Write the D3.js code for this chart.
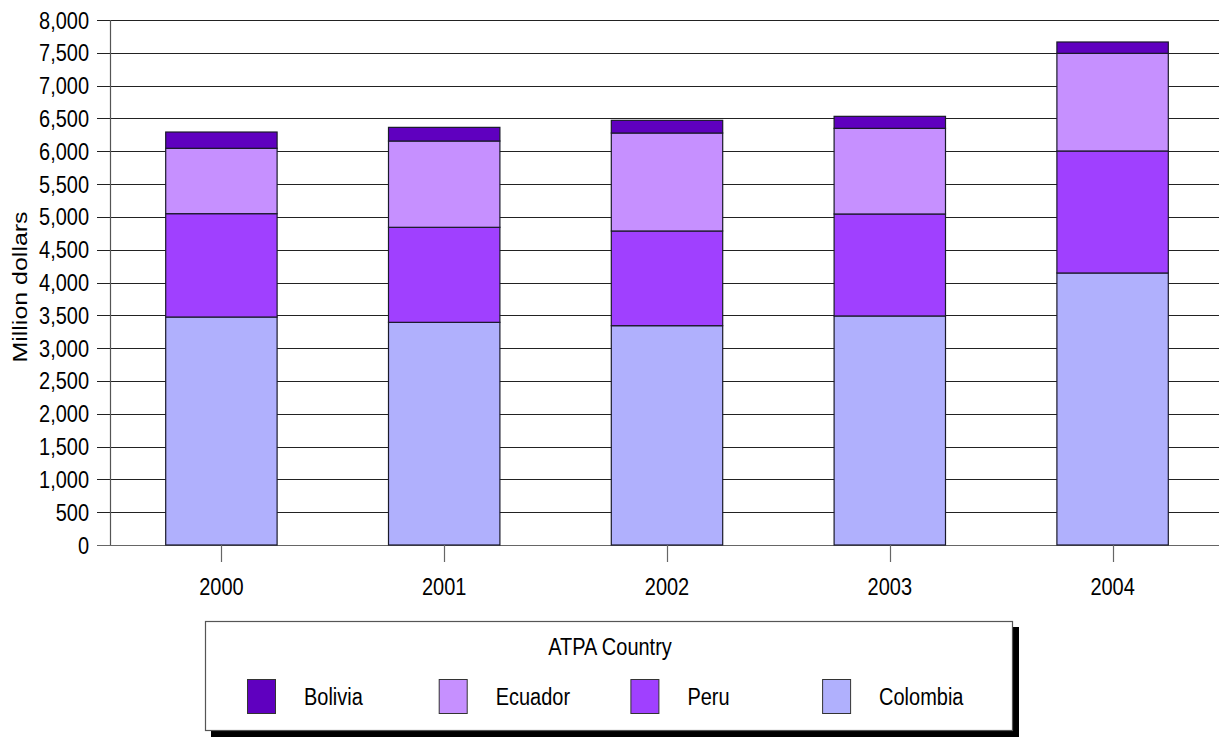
<!DOCTYPE html>
<html>
<head>
<meta charset="utf-8">
<script src="https://cdn.jsdelivr.net/npm/d3@7"></script>
<style>
  body { margin: 0; background: #fff; }
  svg { display: block; }
  text { font-family: "Liberation Sans", Arial, sans-serif; fill: #000; }
</style>
</head>
<body>
<svg id="chart" width="1219" height="738"></svg>
<script>
// values in million dollars
var years = ["2000", "2001", "2002", "2003", "2004"];
var colombia = [3474, 3393, 3342, 3490, 4145];
var peru = [1575, 1448, 1443, 1554, 1859];
var ecuador = [996, 1315, 1493, 1305, 1488];
var bolivia = [248, 208, 193, 183, 173];
var yTicks = [0, 500, 1000, 1500, 2000, 2500, 3000, 3500, 4000, 4500, 5000, 5500, 6000, 6500, 7000, 7500, 8000];

var countries = ["Colombia", "Peru", "Ecuador", "Bolivia"];
var legendOrder = ["Bolivia", "Ecuador", "Peru", "Colombia"];
var colors = {Bolivia: "#5f00bf", Ecuador: "#c690ff", Peru: "#a040ff", Colombia: "#b0b0fd"};

var rows = years.map(function (y, i) {
    return {year: y, Colombia: colombia[i], Peru: peru[i], Ecuador: ecuador[i], Bolivia: bolivia[i]};
});

var svg = d3.select("#chart");
var sx = 0.85;   // text in the original is squeezed horizontally

var yScale = d3.scaleLinear().domain([0, 8000]).range([545, 20]);
var xScale = d3.scaleBand().domain(years).range([110, 1224])
    .paddingInner(0.5).paddingOuter(0.25);

// gridlines + left ticks
svg.append("g").selectAll("line.grid")
    .data(yTicks)
    .enter().append("line")
    .attr("class", "grid")
    .attr("x1", 97).attr("x2", 1219)
    .attr("y1", function (d) { return Math.round(yScale(d)) + 0.5; })
    .attr("y2", function (d) { return Math.round(yScale(d)) + 0.5; })
    .attr("stroke", function (d) { return d === 0 ? "#666" : "#222"; })
    .attr("stroke-width", 1.2);

svg.append("g").selectAll("text")
    .data(yTicks)
    .enter().append("text")
    .attr("transform", function (d) { return "translate(89," + (yScale(d) + 8.5) + ") scale(" + sx + ",1)"; })
    .attr("text-anchor", "end")
    .style("font-size", "23.5px")
    .text(d3.format(","));

svg.append("line")
    .attr("x1", 110.5).attr("x2", 110.5)
    .attr("y1", 20).attr("y2", 545)
    .attr("stroke", "#555").attr("stroke-width", 1.2);

// stacked bars
var stack = d3.stack().keys(countries);
var series = stack(rows);

svg.append("g").selectAll("g")
    .data(series)
    .enter().append("g")
    .attr("fill", function (d) { return colors[d.key]; })
    .selectAll("rect")
    .data(function (d) { return d; })
    .enter().append("rect")
    .attr("x", function (d) { return xScale(d.data.year); })
    .attr("width", xScale.bandwidth())
    .attr("y", function (d) { return yScale(d[1]); })
    .attr("height", function (d) { return yScale(d[0]) - yScale(d[1]); })
    .attr("stroke", "#1a1a2a")
    .attr("stroke-width", 1.2);

// x ticks and labels
var xg = svg.append("g");
xg.selectAll("line")
    .data(years)
    .enter().append("line")
    .attr("x1", function (d) { return Math.round(xScale(d) + xScale.bandwidth() / 2) + 0.5; })
    .attr("x2", function (d) { return Math.round(xScale(d) + xScale.bandwidth() / 2) + 0.5; })
    .attr("y1", 545).attr("y2", 562)
    .attr("stroke", "#666").attr("stroke-width", 1.2);

xg.selectAll("text")
    .data(years)
    .enter().append("text")
    .attr("transform", function (d) { return "translate(" + (xScale(d) + xScale.bandwidth() / 2) + ",595) scale(" + sx + ",1)"; })
    .attr("text-anchor", "middle")
    .style("font-size", "23.5px")
    .text(function (d) { return d; });

// y axis title
svg.append("text")
    .attr("transform", "translate(27,287) rotate(-90) scale(1.04,0.82)")
    .attr("text-anchor", "middle")
    .style("font-size", "24px")
    .text("Million dollars");

// legend
var legend = svg.append("g");
legend.append("rect")
    .attr("x", 211).attr("y", 627)
    .attr("width", 808).attr("height", 110)
    .attr("fill", "#000");
legend.append("rect")
    .attr("x", 205.5).attr("y", 621.5)
    .attr("width", 807).attr("height", 109)
    .attr("fill", "#fff")
    .attr("stroke", "#555").attr("stroke-width", 1.2);

legend.append("text")
    .attr("transform", "translate(610,655) scale(" + sx + ",1)")
    .attr("text-anchor", "middle")
    .style("font-size", "23.5px")
    .text("ATPA Country");

var item = legend.selectAll("g.item")
    .data(legendOrder)
    .enter().append("g")
    .attr("class", "item")
    .attr("transform", function (d, i) { return "translate(" + (247 + i * 191.7) + ",0)"; });

item.append("rect")
    .attr("x", 0.5).attr("y", 679.5)
    .attr("width", 28).attr("height", 34)
    .attr("fill", function (d) { return colors[d]; })
    .attr("stroke", "#333").attr("stroke-width", 1);

item.append("text")
    .attr("transform", "translate(57,705) scale(" + sx + ",1)")
    .style("font-size", "23.5px")
    .text(function (d) { return d; });
</script>
</body>
</html>
